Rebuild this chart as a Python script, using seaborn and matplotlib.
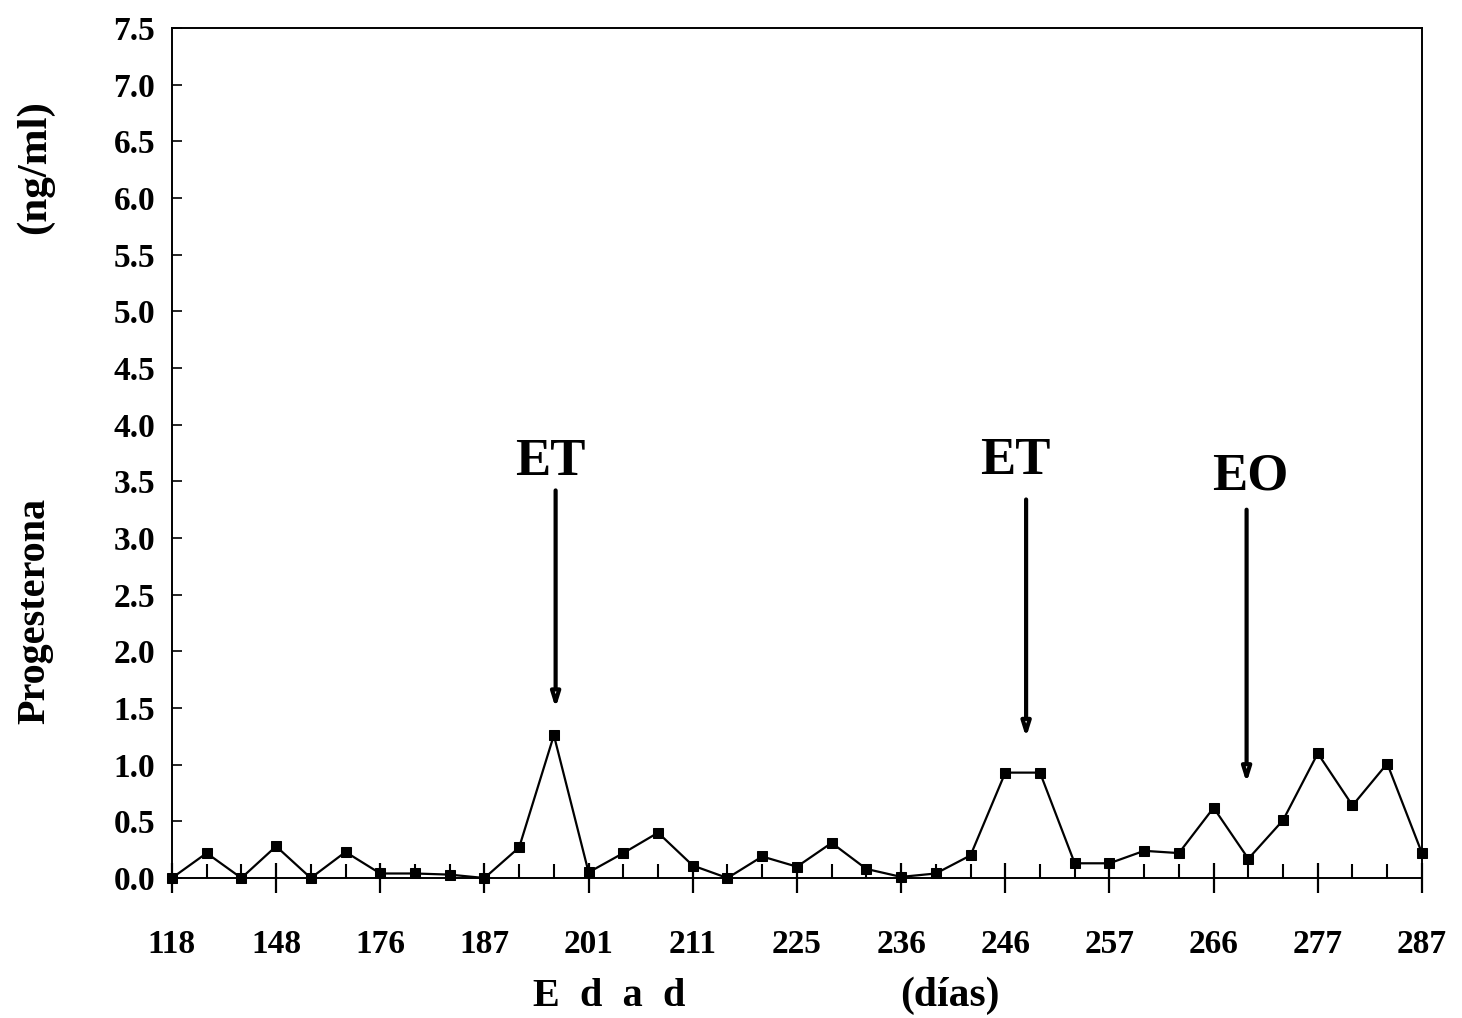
import matplotlib
matplotlib.use("Agg")
import matplotlib.pyplot as plt
import seaborn as sns
import pandas as pd
import numpy as np

# Progesterone profile (ng/ml) sampled along age (days)
progesterona = [0.00, 0.22, 0.00, 0.28, 0.00, 0.23, 0.04, 0.04, 0.03, 0.00,
                0.27, 1.26, 0.05, 0.22, 0.40, 0.11, 0.00, 0.19, 0.10, 0.31,
                0.08, 0.01, 0.04, 0.20, 0.93, 0.93, 0.13, 0.13, 0.24, 0.22,
                0.62, 0.17, 0.51, 1.10, 0.64, 1.01, 0.22]
edad_labels = ["118", "148", "176", "187", "201", "211", "225", "236",
               "246", "257", "266", "277", "287"]
y_ticks = [0.0, 0.5, 1.0, 1.5, 2.0, 2.5, 3.0, 3.5, 4.0, 4.5, 5.0, 5.5,
           6.0, 6.5, 7.0, 7.5]

# Event markers: label, sample position, arrow top, arrow tip, label x, label y
eventos = ["ET", "ET", "EO"]
evento_x = [11.05, 24.6, 30.95]
evento_top = [3.42, 3.34, 3.25]
evento_tip = [1.50, 1.24, 0.84]
evento_label_x = [10.9, 24.3, 31.05]
evento_label_y = [3.46, 3.47, 3.33]

sns.set_theme(style="white")
plt.rcParams["font.family"] = ["Liberation Serif", "DejaVu Serif"]
plt.rcParams["font.weight"] = "bold"
plt.rcParams["text.color"] = "black"
plt.rcParams["axes.labelcolor"] = "black"
plt.rcParams["xtick.color"] = "black"
plt.rcParams["ytick.color"] = "black"

df = pd.DataFrame({"muestra": np.arange(len(progesterona)),
                   "progesterona": progesterona})

fig = plt.figure(figsize=(14.62, 10.18), dpi=100)
ax = fig.add_axes([0.1176, 0.1375, 0.8550, 0.8350])

sns.lineplot(data=df, x="muestra", y="progesterona", ax=ax, color="black",
             linewidth=1.6, marker="s", markersize=7, markeredgecolor="black",
             markerfacecolor="black", clip_on=False)

ax.set_xlim(0, len(progesterona) - 1)
ax.set_ylim(0, 7.5)

major_pos = np.arange(0, len(progesterona), 3)
ax.set_xticks(major_pos)
ax.set_xticklabels(edad_labels)
ax.set_xticks(np.arange(len(progesterona)), minor=True)
ax.set_yticks(y_ticks)
ax.set_yticklabels([f"{v:.1f}" for v in y_ticks])

ax.tick_params(axis="x", which="major", direction="inout", length=21,
               width=1.6, labelsize=24, pad=26, bottom=True, colors="black")
ax.tick_params(axis="x", which="minor", direction="in", length=10,
               width=1.5, bottom=True)
ax.tick_params(axis="y", which="major", direction="in", length=7,
               width=1.2, labelsize=24, pad=12, left=True, colors="black")
for lab in ax.get_xticklabels() + ax.get_yticklabels():
    lab.set_fontweight("bold")

for s in ax.spines.values():
    s.set_color("black")
    s.set_linewidth(1.4)

ax.set_xlabel("")
ax.set_ylabel("")

# Axis titles
fig.text(0.417, 0.003, "E  d  a  d", fontsize=29, fontweight="bold",
         ha="center", va="bottom")
fig.text(0.650, 0.003, "(días)", fontsize=30, fontweight="bold",
         ha="center", va="bottom")
fig.text(0.024, 0.400, "Progesterona", fontsize=29, fontweight="bold",
         rotation=90, ha="center", va="center")
fig.text(0.024, 0.836, "(ng/ml)", fontsize=31, fontweight="bold",
         rotation=90, ha="center", va="center")

# Event arrows with labels
for lab, x, top, tip, lx, ly in zip(eventos, evento_x, evento_top, evento_tip,
                                     evento_label_x, evento_label_y):
    ax.annotate("", xy=(x, tip), xytext=(x, top),
                arrowprops=dict(arrowstyle="-|>,head_length=0.7,head_width=0.22",
                                lw=3, color="black", fc="white",
                                shrinkA=0, shrinkB=0))
    ax.text(lx, ly, lab, fontsize=38, fontweight="bold", ha="center",
            va="bottom")

fig.savefig("out.png", dpi=100, facecolor="white")
